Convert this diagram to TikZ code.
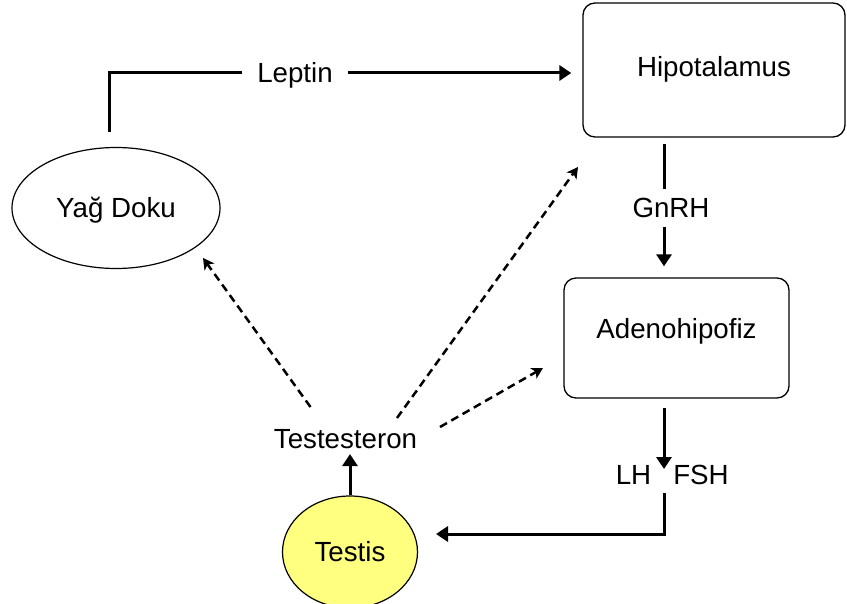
\documentclass[tikz,border=0pt]{standalone}
\usepackage{fontspec}
\setmainfont{Liberation Sans}
\usetikzlibrary{arrows.meta,shapes.geometric}
\definecolor{testisyellow}{RGB}{255,255,128}
\begin{document}
\begin{tikzpicture}[x=1pt,y=-1pt,
  lbl/.style={font=\fontsize{27.7}{30}\selectfont, text height=19.8pt, text depth=0pt, inner sep=0pt},
  rbox/.style={draw, line width=1.3pt, rounded corners=12pt, lbl},
  ell/.style={draw, ellipse, line width=1.2pt, lbl},
  sarrow/.style={line width=3pt, -{Triangle[length=12pt,width=15pt]}},
  sline/.style={line width=3pt},
  darrow/.style={line width=2.5pt, dash pattern=on 8pt off 5pt, -{Stealth[length=11pt,width=12pt,inset=3pt]}}
]
\useasboundingbox (0,0) rectangle (847,604);
% nodes
\node[rbox, minimum width=262pt, minimum height=134pt, text depth=6.5pt] (hipo) at (714,70) {Hipotalamus};
\node[rbox, minimum width=225pt, minimum height=120pt, text depth=18.5pt] (adeno) at (676.5,338) {Adenohipofiz};
\node[ell, minimum width=208pt, minimum height=121pt] (yag) at (116,208) {Yağ Doku};
\node[ell, fill=testisyellow, minimum width=135pt, minimum height=112pt] (testis) at (350,552) {Testis};
\node[lbl, inner ysep=5pt] (testo) at (345.5,439) {Testesteron};
\node[lbl, inner xsep=15pt] (leptin) at (295,73) {Leptin};
\node[lbl, inner ysep=9pt] (gnrh) at (671,208) {GnRH};
\node[lbl] (lh) at (633.5,475) {LH};
\node[lbl] (fsh) at (701,475) {FSH};
% helper coordinates
\coordinate (ax) at (664,0);
\coordinate (lepstart) at (109,132);
\coordinate (lhtip) at (664,469);
\coordinate (lhout) at (664,493);
\coordinate (tin) at (436,534);
% Leptin
\draw[sline] (lepstart) |- (leptin.west);
\draw[sarrow, shorten >=11pt] (leptin.east) -- (leptin.east -| hipo.west);
% GnRH
\draw[sline, shorten <=6pt] (hipo.south -| ax) -- (gnrh.north -| ax);
\draw[sarrow, shorten >=11pt] (gnrh.south -| ax) -- (adeno.north -| ax);
% LH FSH
\draw[sarrow, shorten <=9pt] (adeno.south -| ax) -- (lhtip);
\draw[sarrow] (lhout) |- (tin);
% Testis -> Testesteron
\draw[sarrow] (testis.north) -- (testis.north |- testo.south);
% dashed
\draw[darrow] ([shift={(-35,-32)}]testo.center) -- ([shift={(87,50)}]yag.center);
\draw[darrow] ([shift={(51.5,-21)}]testo.center) -- ([shift={(-136,97)}]hipo.center);
\draw[darrow] ([shift={(94.5,-12)}]testo.center) -- ([shift={(-133.5,30)}]adeno.center);
\end{tikzpicture}
\end{document}
